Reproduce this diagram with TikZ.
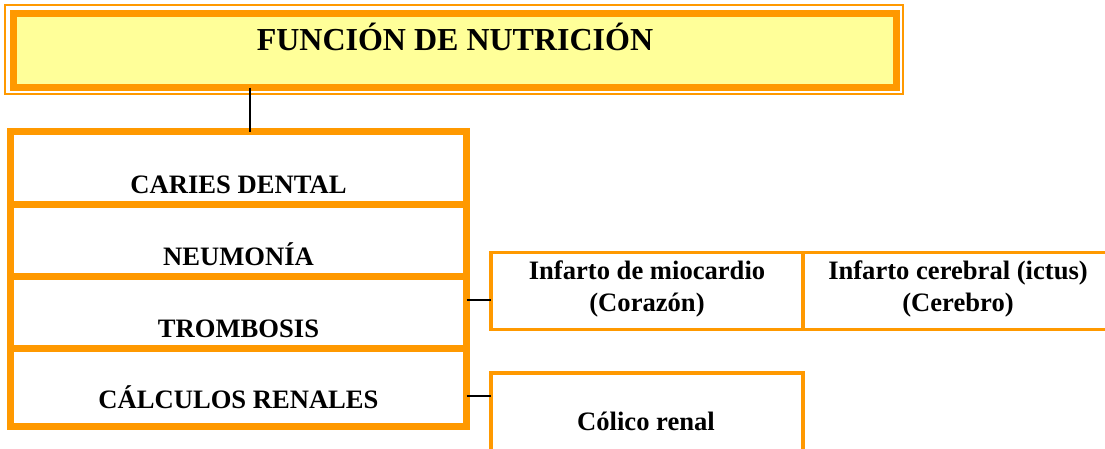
\documentclass[tikz,border=0pt]{standalone}
\usepackage{fontspec}
\setmainfont{Liberation Serif}
\definecolor{naranja}{HTML}{FF9900}
\definecolor{amarillo}{HTML}{FFFF99}
\begin{document}
\begin{tikzpicture}[x=1pt, y=-1pt,
		caja/.style={draw=naranja, line width=3.5pt, outer sep=0pt, inner sep=0pt},
		celda/.style={draw=naranja, line width=7pt, outer sep=0pt, inner sep=0pt},
		texto/.style={inner sep=0pt, anchor=base, align=center, font=\bfseries\fontsize{26.6}{32}\selectfont},
		enlace/.style={draw=black, line width=1.5pt}]
	\useasboundingbox (0,0) rectangle (1105,448);
	\clip (0,0) rectangle (1105,448);

	% cabecera
	\draw[naranja, line width=2pt] (5,5) rectangle (903,94);
	\node[celda, fill=amarillo, minimum width=883pt, minimum height=74pt] (cabecera) at (455,50.5) {};
	\node[texto, font=\bfseries\fontsize{32}{36}\selectfont] (titulo) at (455,50) {FUNCIÓN DE NUTRICIÓN};

	% columna de enfermedades
	\node[celda, minimum width=456pt, minimum height=295pt] (columna) at (238.5,279) {};
	\foreach \y in {204, 276, 348}{
		\draw[naranja, line width=7pt] (columna.west |- 0,\y) -- (columna.east |- 0,\y);
	}
	\foreach \nombre/\texto/\y in {caries/CARIES DENTAL/193, neumonia/NEUMONÍA/265, trombosis/TROMBOSIS/337, calculos/CÁLCULOS RENALES/408}{
		\node[texto] (\nombre) at (238.5,\y) {\texto};
	}

	% consecuencias
	\node[caja, minimum width=312pt, minimum height=77pt] (miocardio) at (647,291) {};
	\node[caja, minimum width=309pt, minimum height=77pt, anchor=west] (ictus) at (miocardio.east) {};
	\node[caja, minimum width=312pt, minimum height=97pt] (colico) at (647,421.5) {};
	\node[texto] (tmiocardio) at (647,311) {Infarto de miocardio\\(Corazón)};
	\node[texto] (tictus) at (958,311) {Infarto cerebral (ictus)\\(Cerebro)};
	\node[texto] (tcolico) at (646,430) {Cólico renal};

	% enlaces
	\draw[enlace] (cabecera.south -| 250,0) -- (columna.north -| 250,0);
	\draw[enlace] (columna.east |- 0,300) -- (miocardio.west |- 0,300);
	\draw[enlace] (columna.east |- 0,396) -- (colico.west |- 0,396);
\end{tikzpicture}
\end{document}
